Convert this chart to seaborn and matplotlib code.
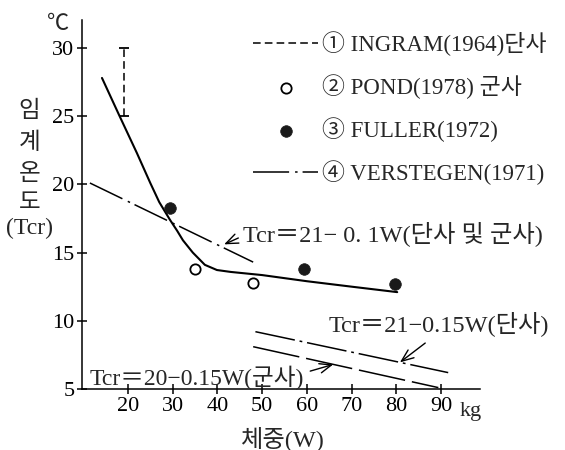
import matplotlib
matplotlib.use("Agg")
import matplotlib.pyplot as plt
from matplotlib.font_manager import FontProperties
import seaborn as sns

# Critical temperature (Tcr, deg C) against body weight (W, kg)
curve_w = [14.2, 18, 22, 25, 27, 29.4, 31, 32.3, 34.5, 37.2, 39.9, 43, 50, 60, 70, 80.2]
curve_t = [27.8, 25.1, 22.3, 20.1, 18.7, 17.4, 16.6, 15.9, 15.0, 14.1, 13.72, 13.58,
           13.35, 12.9, 12.5, 12.1]

ingram_w = [19.2, 19.2]
ingram_t = [25, 30]

pond_w = [35.0, 48.0]
pond_t = [13.8, 12.8]

fuller_w = [29.4, 59.4, 79.7]
fuller_t = [18.3, 13.8, 12.7]

verstegen_w = [11.5, 48.0]
verstegen_t = [20.1, 14.3]

single_w = [48.5, 91.6]   # Tcr=21-0.15W (단사)
single_t = [9.2, 6.2]
group_w = [48.0, 89.4]    # Tcr=20-0.15W (군사)
group_t = [8.1, 5.1]

x_ticks = [20, 30, 40, 50, 60, 70, 80, 90]
y_ticks = [5, 10, 15, 20, 25, 30]
ylabel_chars = ["임", "계", "온", "도", "(Tcr)"]
legend_labels = ["① INGRAM(1964)단사", "② POND(1978) 군사",
                 "③ FULLER(1972)", "④ VERSTEGEN(1971)"]

sns.set_theme(style="ticks")
FAMILY = ["Liberation Serif", "Noto Sans CJK KR", "DejaVu Sans"]
plt.rcParams["font.family"] = FAMILY
plt.rcParams["lines.scale_dashes"] = False

fig = plt.figure(figsize=(5.65, 4.5), dpi=100)
ax = fig.add_axes([0.1451, 0.1356, 0.7044, 0.82])

# ① INGRAM range bar
sns.lineplot(x=ingram_w, y=ingram_t, estimator=None, sort=False, ax=ax,
             color="black", lw=1.1, linestyle=(0, (5.5, 3)))
h_ingram = ax.lines[-1]
ax.plot(ingram_w, ingram_t, ls="none", marker="_", ms=7, mew=1.3, color="black")

# ② POND open circles
sns.scatterplot(x=pond_w, y=pond_t, ax=ax, s=55, facecolor="white",
                edgecolor="black", linewidth=1.3, zorder=4)
h_pond = ax.collections[-1]

# ③ FULLER filled circles
sns.scatterplot(x=fuller_w, y=fuller_t, ax=ax, s=70, color="#1a1a1a",
                edgecolor="#1a1a1a", linewidth=0.5, zorder=4)
h_fuller = ax.collections[-1]

# ④ VERSTEGEN dash-dot
sns.lineplot(x=verstegen_w, y=verstegen_t, estimator=None, sort=False, ax=ax,
             color="black", lw=1.1, linestyle=(0, (26, 4.3, 1.8, 3.6)))
h_vers = ax.lines[-1]

# fitted curve
sns.lineplot(x=curve_w, y=curve_t, estimator=None, sort=False, ax=ax,
             color="black", lw=1.5)

# regression lines at the bottom
sns.lineplot(x=single_w, y=single_t, estimator=None, sort=False, ax=ax,
             color="black", lw=1.1, linestyle=(0, (29, 3.5, 2, 3.5)))
sns.lineplot(x=group_w, y=group_t, estimator=None, sort=False, ax=ax,
             color="black", lw=1.1, linestyle=(0, (34, 5)))

ax.set_xlim(9.73, 98.7)
ax.set_ylim(5, 32.05)
ax.set_xticks(x_ticks)
ax.set_yticks(y_ticks)
ax.set_xlabel("")
ax.set_ylabel("")
for s in ["top", "right"]:
    ax.spines[s].set_visible(False)
for s in ["left", "bottom"]:
    ax.spines[s].set_linewidth(1.1)
    ax.spines[s].set_color("black")
ax.tick_params(direction="inout", length=7, width=1.1, colors="black",
               labelsize=16, pad=2)
ax.grid(False)

# axis texts
ax.text(-0.06, 0.985, "℃", transform=ax.transAxes, ha="center", va="center",
        fontsize=16, family=FAMILY)
ylab_y = [0.751, 0.667, 0.580, 0.504, 0.436]
for ch, yy in zip(ylabel_chars, ylab_y):
    ax.text(-0.132, yy, ch, transform=ax.transAxes, ha="center", va="center",
            fontsize=17, family=FAMILY)
ax.text(0.505, -0.133, "체중(W)", transform=ax.transAxes, ha="center",
        va="center", fontsize=17.5, family=FAMILY)
ax.text(96.6, -0.06, "kg", transform=ax.get_xaxis_transform(), ha="center",
        va="center", fontsize=16, family=FAMILY)

# equation labels
arrow = dict(arrowstyle="->,head_length=0.5,head_width=0.2", lw=1.0,
             color="black", shrinkB=0)
ax.annotate("Tcr＝21− 0. 1W(단사 및 군사)", xy=(41.5, 15.6), xytext=(45.7, 16.4),
            ha="left", va="center", fontsize=17.5, family=FAMILY,
            arrowprops=dict(arrow, relpos=(0, 0.4), shrinkA=1))
ax.annotate("Tcr＝21−0.15W(단사)", xy=(80.8, 6.95), xytext=(64.75, 9.77),
            ha="left", va="center", fontsize=17.5, family=FAMILY,
            arrowprops=dict(arrow, relpos=(0.48, 0), shrinkA=4))
ax.annotate("Tcr＝20−0.15W(군사)", xy=(65.9, 6.8), xytext=(11.5, 5.3),
            ha="left", va="baseline", fontsize=17, family=FAMILY,
            arrowprops=dict(arrow, relpos=(1, 0.7), shrinkA=2))

ax.legend([h_ingram, h_pond, h_fuller, h_vers], legend_labels,
          loc="upper left", bbox_to_anchor=(0.43, 0.97), frameon=False,
          handlelength=2.85, handletextpad=0.15, labelspacing=0.8,
          borderpad=0, borderaxespad=0,
          prop=FontProperties(family=FAMILY, size=16.5))

fig.savefig("out.png", dpi=100)
